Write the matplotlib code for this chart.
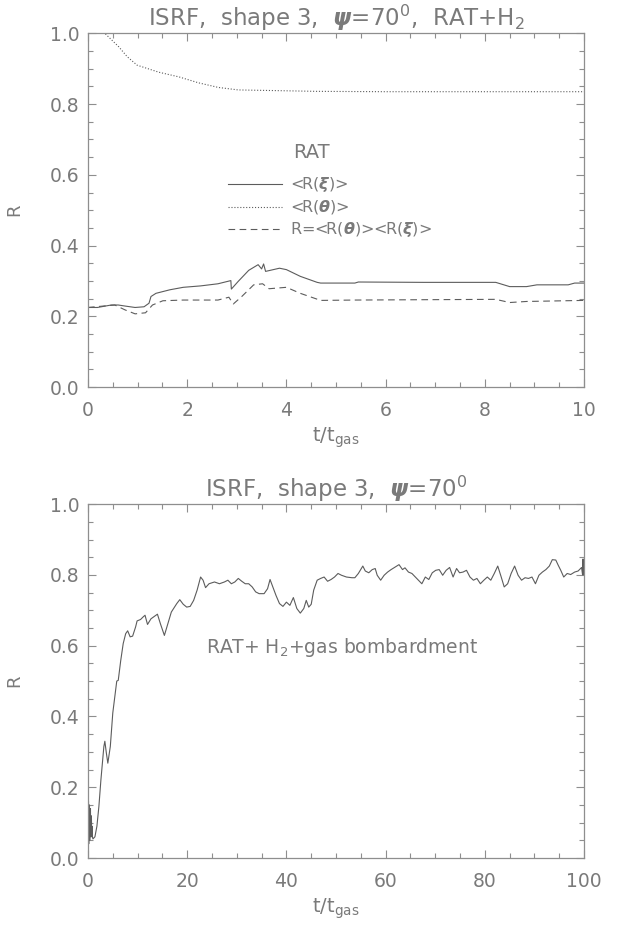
"""
Alinhamento R(t) para ISRF, shape 3, psi=70:
  - painel superior: RAT+H2, t/t_gas de 0 a 10
  - painel inferior: RAT+H2+gas bombardment, t/t_gas de 0 a 100
"""

import matplotlib.pyplot as plt
from matplotlib.ticker import MultipleLocator

COR_TEXTO = "#7a7a7a"
COR_EIXO = "#8e8e8e"
COR_CURVA = "#5c5c5c"

# painel superior: <R(xi)>
t_xi = [0.0, 0.19, 0.47, 0.61, 0.75, 0.95, 1.13, 1.23, 1.27, 1.37, 1.65, 1.92,
        2.27, 2.62, 2.88, 2.89, 3.03, 3.24, 3.43, 3.50, 3.54, 3.58, 3.86, 4.0,
        4.28, 4.62, 4.69, 5.38, 5.45, 6.77, 8.22, 8.50, 8.84, 9.05, 9.68, 9.81,
        10.0]
r_xi = [0.225, 0.225, 0.232, 0.232, 0.229, 0.225, 0.227, 0.237, 0.256, 0.265,
        0.275, 0.282, 0.286, 0.292, 0.301, 0.277, 0.299, 0.330, 0.346, 0.334,
        0.348, 0.327, 0.336, 0.332, 0.313, 0.296, 0.294, 0.294, 0.297, 0.296,
        0.296, 0.284, 0.284, 0.289, 0.289, 0.294, 0.294]

# painel superior: <R(theta)>
t_theta = [0.0, 0.34, 0.62, 0.79, 0.99, 1.43, 1.83, 2.23, 2.63, 3.03, 3.83,
           4.6, 6.0, 8.0, 10.0]
r_theta = [1.0, 1.0, 0.962, 0.934, 0.91, 0.89, 0.877, 0.86, 0.847, 0.84,
           0.838, 0.836, 0.835, 0.835, 0.835]

# painel superior: R = <R(theta)><R(xi)>
t_prod = [0.0, 0.54, 0.75, 0.95, 1.16, 1.30, 1.51, 1.92, 2.62, 2.84, 2.93,
          3.10, 3.34, 3.52, 3.65, 4.0, 4.28, 4.69, 5.38, 8.22, 8.50, 8.84, 10.0]
r_prod = [0.225, 0.232, 0.218, 0.207, 0.210, 0.232, 0.244, 0.246, 0.246,
          0.254, 0.235, 0.256, 0.289, 0.292, 0.278, 0.282, 0.265, 0.245,
          0.246, 0.248, 0.239, 0.242, 0.245]

# painel inferior: RAT+H2+gas bombardment
t_gas = [0.0, 0.05, 0.1, 0.15, 0.2, 0.25, 0.3, 0.35, 0.4, 0.45, 0.5, 0.55,
         0.6, 0.65, 0.7, 0.75, 0.8, 0.9, 1.0, 1.4, 1.8, 2.2, 2.6, 3.2, 3.4,
         3.7, 4.0, 4.5, 5.0, 5.8, 6.1, 6.6, 7.1, 7.6, 8.0, 8.5, 9.0, 9.6, 9.9,
         10.6, 11.1, 11.5, 12.0, 12.7, 13.4, 14.0, 14.6, 15.4, 16.1, 16.8,
         17.9, 18.5, 19.2, 19.9, 20.6, 21.3, 22.0, 22.7, 23.2, 23.7, 24.4,
         25.5, 26.5, 27.5, 28.2, 28.9, 29.6, 30.3, 31.0, 31.7, 32.4, 33.1,
         33.8, 34.5, 35.5, 36.2, 36.7, 37.2, 37.9, 38.6, 39.3, 40.0, 40.7,
         41.4, 42.1, 42.8, 43.5, 44.0, 44.5, 45.0, 45.5, 46.2, 46.9, 47.6,
         48.3, 49.0, 49.7, 50.4, 51.1, 52.1, 53.2, 53.8, 54.5, 55.4, 55.9,
         56.6, 57.3, 57.9, 58.3, 59.0, 59.7, 60.4, 61.1, 61.8, 62.7, 63.4,
         63.9, 64.6, 65.3, 66.0, 66.6, 67.3, 68.0, 68.7, 69.4, 70.1, 70.8,
         71.5, 72.2, 72.9, 73.6, 74.3, 74.9, 75.6, 76.3, 77.0, 77.7, 78.4,
         79.1, 79.8, 80.5, 81.2, 81.9, 82.6, 83.3, 83.9, 84.6, 85.3, 86.0,
         86.7, 87.4, 88.1, 88.8, 89.5, 90.2, 90.9, 91.6, 92.3, 93.0, 93.6,
         94.3, 94.8, 95.3, 95.9, 96.6, 97.3, 98.1, 98.8, 99.5, 99.7, 99.8,
         99.85, 99.9, 100.0]
r_gas = [0.22, 0.02, 0.16, 0.04, 0.14, 0.06, 0.15, 0.05, 0.13, 0.07, 0.14,
         0.06, 0.12, 0.08, 0.11, 0.06, 0.09, 0.06, 0.054, 0.06, 0.09, 0.146,
         0.22, 0.315, 0.33, 0.297, 0.268, 0.315, 0.41, 0.50, 0.502, 0.558,
         0.606, 0.634, 0.642, 0.625, 0.627, 0.653, 0.670, 0.674, 0.681, 0.686,
         0.660, 0.676, 0.683, 0.689, 0.662, 0.629, 0.662, 0.695, 0.719, 0.730,
         0.717, 0.709, 0.711, 0.728, 0.757, 0.794, 0.785, 0.764, 0.775, 0.780,
         0.775, 0.780, 0.785, 0.775, 0.780, 0.790, 0.782, 0.775, 0.775, 0.766,
         0.752, 0.747, 0.747, 0.761, 0.787, 0.768, 0.742, 0.719, 0.711, 0.723,
         0.714, 0.736, 0.705, 0.692, 0.705, 0.728, 0.709, 0.717, 0.757, 0.785,
         0.790, 0.794, 0.782, 0.787, 0.794, 0.804, 0.799, 0.794, 0.792, 0.792,
         0.804, 0.825, 0.811, 0.806, 0.815, 0.818, 0.799, 0.785, 0.799, 0.808,
         0.815, 0.821, 0.829, 0.815, 0.820, 0.808, 0.804, 0.794, 0.785, 0.775,
         0.794, 0.787, 0.806, 0.813, 0.815, 0.799, 0.813, 0.821, 0.794, 0.818,
         0.806, 0.808, 0.813, 0.794, 0.785, 0.790, 0.775, 0.785, 0.794, 0.785,
         0.804, 0.825, 0.794, 0.766, 0.775, 0.804, 0.825, 0.799, 0.785, 0.792,
         0.790, 0.794, 0.775, 0.799, 0.808, 0.815, 0.825, 0.843, 0.842, 0.827,
         0.813, 0.794, 0.804, 0.801, 0.808, 0.811, 0.821, 0.800, 0.845, 0.800,
         0.840, 0.825]

# legenda do painel superior
rotulos_legenda = [r"<R($\boldsymbol{\xi}$)>", r"<R($\boldsymbol{\theta}$)>",
                   r"R=<R($\boldsymbol{\theta}$)><R($\boldsymbol{\xi}$)>"]
estilos_legenda = ["-", ":", "--"]


def estilo_eixo(ax, xmax, x_maior, x_menor):
    ax.set_xlim(0, xmax)
    ax.set_ylim(0, 1.0)
    ax.xaxis.set_major_locator(MultipleLocator(x_maior))
    ax.xaxis.set_minor_locator(MultipleLocator(x_menor))
    ax.yaxis.set_major_locator(MultipleLocator(0.2))
    ax.yaxis.set_minor_locator(MultipleLocator(0.05))
    ax.yaxis.set_major_formatter(plt.FormatStrFormatter("%.1f"))
    ax.tick_params(which="both", direction="in", top=True, right=True,
                   color=COR_EIXO, labelcolor=COR_TEXTO, labelsize=13.5,
                   width=0.8)
    ax.tick_params(which="major", length=6)
    ax.tick_params(which="minor", length=3.5)
    ax.tick_params(axis="x", pad=10)
    ax.tick_params(axis="y", pad=6)
    for lado in ax.spines.values():
        lado.set_color(COR_EIXO)
        lado.set_linewidth(0.9)
    ax.set_ylabel("R", color=COR_TEXTO, fontsize=13, labelpad=19)
    ax.set_xlabel(r"t/t$_{\rm gas}$", color=COR_TEXTO, fontsize=14, labelpad=4)


fig = plt.figure(figsize=(6.24, 9.26), dpi=100)
ax1 = fig.add_axes([0.141, 0.582, 0.795, 0.382])
ax2 = fig.add_axes([0.141, 0.0734, 0.795, 0.3822])

# painel superior
ax1.plot(t_xi, r_xi, "-", color=COR_CURVA, lw=0.8)
ax1.plot(t_theta, r_theta, ":", color=COR_CURVA, lw=0.8)
ax1.plot(t_prod, r_prod, "--", color=COR_CURVA, lw=0.8, dashes=(6, 4))
estilo_eixo(ax1, 10, 2, 0.5)
ax1.set_title(r"ISRF,  shape 3,  $\boldsymbol{\psi}$=70$^0$,  RAT+H$_2$",
              color=COR_TEXTO, fontsize=16.5, pad=4)

ax1.text(0.45, 0.664, "RAT", transform=ax1.transAxes, color=COR_TEXTO,
         fontsize=14, ha="center", va="center")
for i, (rotulo, estilo) in enumerate(zip(rotulos_legenda, estilos_legenda)):
    y = 0.573 - i * 0.0635
    ax1.plot([0.282, 0.391], [y, y], estilo, color=COR_CURVA, lw=0.8,
             transform=ax1.transAxes, **({"dashes": (6, 4)} if estilo == "--" else {}))
    ax1.text(0.407, y, rotulo, transform=ax1.transAxes, color=COR_TEXTO,
             fontsize=11.5, ha="left", va="center")

# painel inferior
ax2.plot(t_gas, r_gas, "-", color=COR_CURVA, lw=0.8)
estilo_eixo(ax2, 100, 20, 5)
ax2.set_title(r"ISRF,  shape 3,  $\boldsymbol{\psi}$=70$^0$",
              color=COR_TEXTO, fontsize=16.5, pad=4)
ax2.text(0.238, 0.596, r"RAT+ H$_2$+gas bombardment", transform=ax2.transAxes,
         color=COR_TEXTO, fontsize=13.5, ha="left", va="center")

fig.savefig("out.png", dpi=100)
